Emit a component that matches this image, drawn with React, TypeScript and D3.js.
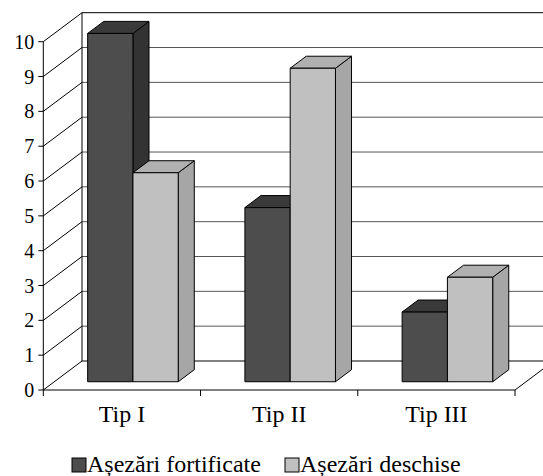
import React from "react"
import * as d3 from "d3"

const categories = ["Tip I", "Tip II", "Tip III"]
const seriesNames = ["Așezări fortificate", "Așezări deschise"]
const fortificate = [10, 5, 2]
const deschise = [6, 9, 3]
const yTicks = [0, 1, 2, 3, 4, 5, 6, 7, 8, 9, 10]

const W = 543
const H = 476
const FONT = "Liberation Serif, DejaVu Serif, serif"

// wall / floor depth offset
const DX = 38.7
const DY = -29
// bars sit between these fractions of the depth
const zFront = 0.285
const zBack = 0.7

const frontFill = ["#4d4d4d", "#c0c0c0"]
const topFill = ["#3a3a3a", "#b0b0b0"]
const sideFill = ["#333333", "#a6a6a6"]

export default function App() {
  const x = d3.scaleBand<string>().domain(categories).range([43.3, 515]).padding(0)
  const inner = d3
    .scaleBand<string>()
    .domain(seriesNames)
    .range([0, x.bandwidth()])
    .paddingInner(0)
    .paddingOuter(0.736)
  const y = d3.scaleLinear().domain([0, 10]).range([390, 41.7])

  const x0 = x.range()[0]
  const x1 = x.range()[1]
  const y0 = y(0)

  const values = [fortificate, deschise]

  const bars: JSX.Element[] = []
  categories.forEach((c, ci) => {
    seriesNames.forEach((s, si) => {
      const v = values[si][ci]
      const fx = x(c)! + inner(s)! + zFront * DX
      const fw = inner.bandwidth()
      const fb = y0 + zFront * DY
      const ft = y(v) + zFront * DY
      const ddx = (zBack - zFront) * DX
      const ddy = (zBack - zFront) * DY
      const front = `M${fx},${fb}L${fx},${ft}L${fx + fw},${ft}L${fx + fw},${fb}Z`
      const top = `M${fx},${ft}L${fx + ddx},${ft + ddy}L${fx + fw + ddx},${ft + ddy}L${fx + fw},${ft}Z`
      const side = `M${fx + fw},${ft}L${fx + fw + ddx},${ft + ddy}L${fx + fw + ddx},${fb + ddy}L${fx + fw},${fb}Z`
      bars.push(
        <g key={`${ci}-${si}`} stroke="#000" strokeWidth={1} strokeLinejoin="round">
          <path d={side} fill={sideFill[si]} />
          <path d={top} fill={topFill[si]} />
          <path d={front} fill={frontFill[si]} />
        </g>
      )
    })
  })

  return (
    <svg
      width={W}
      height={H}
      style={{ position: "absolute", left: 0, top: 0, background: "#fff", fontFamily: FONT }}
    >
      {/* back wall gridlines */}
      {yTicks.map((t) => (
        <line
          key={`g${t}`}
          x1={x0 + DX}
          x2={x1 + DX}
          y1={y(t) + DY}
          y2={y(t) + DY}
          stroke={t === 10 || t === 0 ? "#000" : "#555"}
          strokeWidth={1}
        />
      ))}
      {/* left wall */}
      <line x1={x0 + DX} x2={x0 + DX} y1={y(0) + DY} y2={y(10) + DY} stroke="#000" />
      {yTicks.map((t) => (
        <line key={`d${t}`} x1={x0} y1={y(t)} x2={x0 + DX} y2={y(t) + DY} stroke="#000" />
      ))}
      {/* floor */}
      <line x1={x1} y1={y0} x2={x1 + DX} y2={y0 + DY} stroke="#000" />
      <line x1={x0} x2={x1} y1={y0} y2={y0} stroke="#000" />
      {/* value axis */}
      <line x1={x0} x2={x0} y1={y(0)} y2={y(10)} stroke="#000" />
      {yTicks.map((t) => (
        <g key={`t${t}`}>
          <line x1={x0 - 5} x2={x0} y1={y(t)} y2={y(t)} stroke="#000" />
          <text x={x0 - 9} y={y(t)} dy="0.35em" textAnchor="end" fontSize={20} fill="#000">
            {t}
          </text>
        </g>
      ))}
      {/* category ticks */}
      {[...categories.map((c) => x(c)!), x1].map((px, i) => (
        <line key={`c${i}`} x1={px} x2={px} y1={y0} y2={y0 + 6} stroke="#000" />
      ))}
      {bars}
      {categories.map((c) => (
        <text
          key={c}
          x={x(c)! + x.bandwidth() / 2}
          y={422}
          textAnchor="middle"
          fontSize={24}
          fill="#000"
        >
          {c}
        </text>
      ))}
      {/* legend */}
      {seriesNames.map((s, i) => {
        const lx = i === 0 ? 72 : 285
        return (
          <g key={s}>
            <rect x={lx} y={458} width={14} height={14} fill={frontFill[i]} stroke="#000" strokeWidth={1} />
            <text x={lx + 15} y={472} fontSize={24} fill="#000">
              {s}
            </text>
          </g>
        )
      })}
    </svg>
  )
}
